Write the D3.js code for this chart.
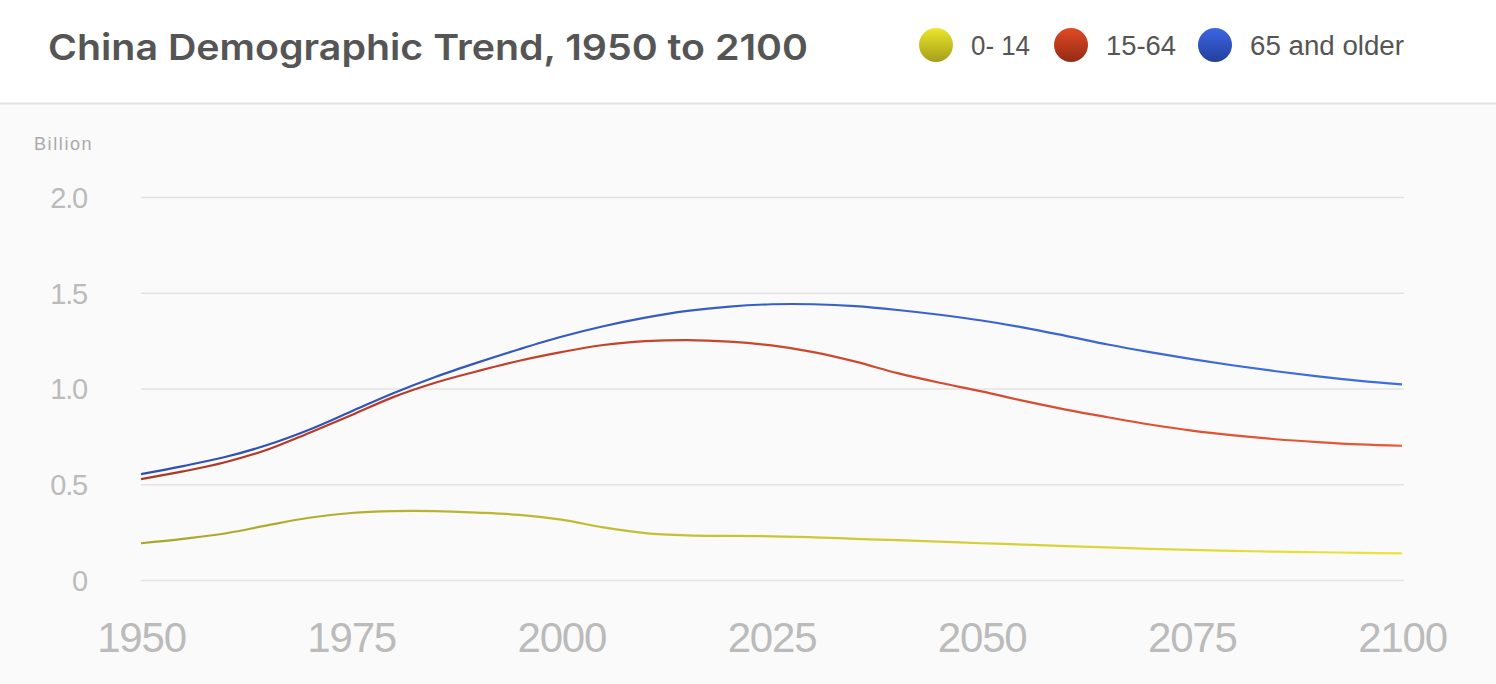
<!DOCTYPE html>
<html>
<head>
<meta charset="utf-8">
<script src="https://cdn.jsdelivr.net/npm/d3@7"></script>
<style>
  html, body { margin: 0; padding: 0; background: #fafafa; }
  svg { display: block; }
</style>
</head>
<body>
<svg id="chart" width="1496" height="684"></svg>
<script>
// ---- Data (billions) ----
const years = [1950, 1955, 1960, 1965, 1970, 1975, 1980, 1985, 1990, 1995, 2000, 2005, 2010, 2015, 2020, 2025,
               2030, 2035, 2040, 2045, 2050, 2055, 2060, 2065, 2070, 2075, 2080, 2085, 2090, 2095, 2100];
const age0to14 = [0.192, 0.215, 0.243, 0.285, 0.325, 0.350, 0.360, 0.360, 0.352, 0.340, 0.315, 0.275, 0.245, 0.233, 0.230, 0.228,
                  0.223, 0.215, 0.208, 0.200, 0.192, 0.185, 0.177, 0.170, 0.163, 0.157, 0.152, 0.148, 0.145, 0.142, 0.139];
const age15to64 = [0.335, 0.352, 0.372, 0.395, 0.443, 0.510, 0.595, 0.670, 0.738, 0.805, 0.875, 0.952, 1.002, 1.020, 1.015, 0.997,
                   0.967, 0.925, 0.872, 0.830, 0.793, 0.750, 0.713, 0.680, 0.649, 0.623, 0.603, 0.587, 0.575, 0.566, 0.562];
const age65plus = [0.026, 0.028, 0.027, 0.025, 0.017, 0.020, 0.020, 0.030, 0.045, 0.060, 0.080, 0.098, 0.123, 0.152, 0.183, 0.215,
                   0.250, 0.290, 0.330, 0.355, 0.370, 0.383, 0.385, 0.380, 0.378, 0.373, 0.365, 0.355, 0.343, 0.332, 0.321];
const seriesNames = ["0- 14", "15-64", "65 and older"];
const yTicks = [0, 0.5, 1.0, 1.5, 2.0];
const xTicks = [1950, 1975, 2000, 2025, 2050, 2075, 2100];
const titleText = "China Demographic Trend, 1950 to 2100";
const unitText = "Billion";

// ---- Styles ----
const colorsLeft = ["#a9a52c", "#ad3722", "#2f4fae"];
const colorsRight = ["#ebe53c", "#ea5636", "#3f6ee2"];
const legendTop = ["#ece62a", "#e04a24", "#3b66e4"];
const legendBottom = ["#a59e1c", "#952a15", "#243f9c"];
const FONT = "'Liberation Sans', Arial, sans-serif";

const svg = d3.select("#chart");
const W = 1496, H = 684;
const m = { left: 141, right: 1402, top: 197, bottom: 580 };

// header
svg.append("rect").attr("x", 0).attr("y", 0).attr("width", W).attr("height", 103).attr("fill", "#ffffff");
svg.append("rect").attr("x", 0).attr("y", 103).attr("width", W).attr("height", H - 103).attr("fill", "#fafafa");
svg.append("line").attr("x1", 0).attr("x2", W).attr("y1", 103.5).attr("y2", 103.5)
  .attr("stroke", "#e2e2e2").attr("stroke-width", 2);

svg.append("text").attr("x", 48).attr("y", 60)
  .attr("font-family", "Inter, 'Liberation Sans', sans-serif")
  .attr("font-weight", 600).attr("font-size", 36).attr("fill", "#555555")
  .attr("textLength", 760).attr("lengthAdjust", "spacingAndGlyphs")
  .text(titleText);

// legend
const defs = svg.append("defs");
const legendX = [936, 1071, 1215];
const legendLen = [59, 70, 154];
seriesNames.forEach((name, i) => {
  const g = defs.append("linearGradient").attr("id", "lg" + i)
    .attr("x1", 0).attr("y1", 0).attr("x2", 0).attr("y2", 1);
  g.append("stop").attr("offset", "0%").attr("stop-color", legendTop[i]);
  g.append("stop").attr("offset", "100%").attr("stop-color", legendBottom[i]);
  svg.append("ellipse").attr("cx", legendX[i]).attr("cy", 45).attr("rx", 17).attr("ry", 17)
    .attr("fill", "url(#lg" + i + ")");
  svg.append("text").attr("x", legendX[i] + 35).attr("y", 55)
    .attr("font-family", FONT)
    .attr("font-size", 27).attr("fill", "#555555")
    .attr("textLength", legendLen[i]).attr("lengthAdjust", "spacingAndGlyphs")
    .text(name);
});

// scales
const x = d3.scaleLinear().domain([1950, 2100]).range([m.left, m.right]);
const y = d3.scaleLinear().domain([0, 2.0]).range([m.bottom, m.top]);

// grid + y labels
const yAxis = d3.axisLeft(y).tickValues(yTicks).tickSize(0)
  .tickFormat(d => d === 0 ? "0" : d3.format(".1f")(d));
const yg = svg.append("g").attr("transform", `translate(${m.left},0)`).call(yAxis);
yg.select(".domain").remove();
yg.selectAll(".tick text").attr("x", -54).attr("dy", "0.36em")
  .attr("font-family", FONT)
  .attr("font-size", 29).attr("fill", "#bbbbbb").attr("letter-spacing", -1.2);
yg.selectAll(".tick").append("line").attr("x1", 0).attr("x2", m.right - m.left + 2)
  .attr("stroke", "#e3e3e3").attr("stroke-width", 1.5);

svg.append("text").attr("x", 34).attr("y", 150)
  .attr("font-family", FONT)
  .attr("font-size", 18).attr("fill", "#aaaaaa").attr("letter-spacing", 1.6)
  .text(unitText);

// x labels
const xAxis = d3.axisBottom(x).tickValues(xTicks).tickSize(0).tickFormat(d3.format("d"));
const xg = svg.append("g").attr("transform", `translate(0,${m.bottom})`).call(xAxis);
xg.select(".domain").remove();
xg.selectAll(".tick text").attr("y", 0).attr("dy", 72)
  .attr("font-family", FONT)
  .attr("font-size", 42).attr("fill", "#bbbbbb").attr("letter-spacing", -1.2);

// stacked data
const table = years.map((yr, i) => ({ year: yr, a: age0to14[i], b: age15to64[i], c: age65plus[i] }));
const stacked = d3.stack().keys(["a", "b", "c"])(table);

const line = d3.line()
  .x(d => x(d.data.year))
  .y(d => y(d[1]))
  .curve(d3.curveCatmullRom.alpha(0.5));

stacked.forEach((s, i) => {
  const g = defs.append("linearGradient").attr("id", "sg" + i)
    .attr("gradientUnits", "userSpaceOnUse")
    .attr("x1", m.left).attr("y1", 0).attr("x2", m.right).attr("y2", 0);
  g.append("stop").attr("offset", "0%").attr("stop-color", colorsLeft[i]);
  g.append("stop").attr("offset", "100%").attr("stop-color", colorsRight[i]);
});

[0, 1, 2].forEach(i => {
  svg.append("path").datum(stacked[i]).attr("d", line)
    .attr("fill", "none").attr("stroke", "url(#sg" + i + ")")
    .attr("stroke-width", 2.2);
});
</script>
</body>
</html>
